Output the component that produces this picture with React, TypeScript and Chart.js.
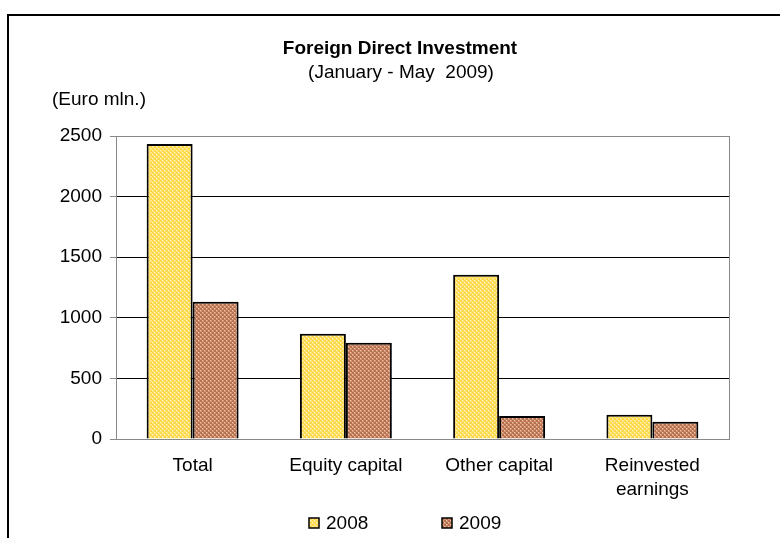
import React, { useEffect, useRef } from "react";
import { Chart, registerables } from "chart.js";

Chart.register(...registerables);

const categories: (string | string[])[] = ["Total", "Equity capital", "Other capital", ["Reinvested", "earnings"]];
const seriesNames = ["2008", "2009"];
const values2008 = [2434, 869, 1356, 200];
const values2009 = [1133, 795, 190, 143];
const yTicks = [0, 500, 1000, 1500, 2000, 2500];
const titleText = "Foreign Direct Investment";
const subtitleText = "(January - May  2009)";
const unitText = "(Euro mln.)";

const FONT = "'Liberation Sans', Arial, sans-serif";

function makePattern(base: string, dark: string, light: string): CanvasPattern | string {
  const c = document.createElement("canvas");
  c.width = 4;
  c.height = 4;
  const g = c.getContext("2d");
  if (!g) return base;
  g.fillStyle = base;
  g.fillRect(0, 0, 4, 4);
  g.fillStyle = dark;
  g.fillRect(0, 0, 2, 2);
  g.fillRect(2, 2, 2, 2);
  g.fillStyle = light;
  g.fillRect(2, 0, 1, 1);
  g.fillRect(0, 2, 1, 1);
  const p = g.createPattern(c, "repeat");
  return p || base;
}

export default function App() {
  const ref = useRef<HTMLCanvasElement>(null);

  useEffect(() => {
    if (!ref.current) return;
    const yellow = makePattern("#FFE478", "#FFD84A", "#FFF6C8");
    const brown = makePattern("#D09474", "#B9704E", "#EEC9B2");
    const fills = [yellow, brown];

    const deco = {
      id: "deco",
      afterDraw(chart: any) {
        const ctx = chart.ctx as CanvasRenderingContext2D;
        const a = chart.chartArea;
        ctx.save();
        ctx.strokeStyle = "#888888";
        ctx.lineWidth = 1;
        ctx.beginPath();
        ctx.moveTo(Math.round(a.right) + 0.5, a.top);
        ctx.lineTo(Math.round(a.right) + 0.5, a.bottom);
        ctx.stroke();
        ctx.strokeStyle = "#000000";
        ctx.lineWidth = 2;
        ctx.strokeRect(8, 15, 800, 600);
        ctx.fillStyle = "#000000";
        ctx.textAlign = "center";
        ctx.textBaseline = "alphabetic";
        ctx.font = `bold 19px ${FONT}`;
        ctx.fillText(titleText, 400, 54);
        ctx.font = `19px ${FONT}`;
        ctx.fillText(subtitleText, 401, 78);
        ctx.textAlign = "left";
        ctx.fillText(unitText, 52, 105);
        const lx = [309, 442];
        chart.data.datasets.forEach((ds: any, i: number) => {
          const x = lx[i];
          ctx.fillStyle = ds.backgroundColor;
          ctx.fillRect(x, 518, 10, 10);
          ctx.strokeStyle = "#000000";
          ctx.lineWidth = 1.5;
          ctx.strokeRect(x, 518, 10, 10);
          ctx.fillStyle = "#000000";
          ctx.textAlign = "left";
          ctx.textBaseline = "middle";
          ctx.font = `19px ${FONT}`;
          ctx.fillText(ds.label, x + 17, 524);
        });
        ctx.restore();
      },
    };

    const chart = new Chart(ref.current, {
      type: "bar",
      data: {
        labels: categories as any,
        datasets: [
          {
            label: seriesNames[0],
            data: values2008,
            backgroundColor: fills[0] as any,
            borderColor: "#000000",
            borderWidth: 2,
            categoryPercentage: 0.6,
            barPercentage: 1.0,
          },
          {
            label: seriesNames[1],
            data: values2009,
            backgroundColor: fills[1] as any,
            borderColor: "#000000",
            borderWidth: 2,
            categoryPercentage: 0.6,
            barPercentage: 1.0,
          },
        ],
      },
      options: {
        responsive: false,
        animation: false,
        devicePixelRatio: 1,
        layout: { padding: { left: 0, right: 51, top: 136, bottom: 0 } },
        plugins: {
          legend: { display: false },
          title: { display: false },
          tooltip: { enabled: false },
        },
        scales: {
          x: {
            grid: { display: false, drawTicks: false },
            border: { display: true, color: "#888888", width: 1 },
            ticks: {
              color: "#000000",
              font: { family: FONT, size: 19, lineHeight: 1.25 },
              padding: 15,
              maxRotation: 0,
              autoSkip: false,
            },
            afterFit: (s: any) => {
              s.height = 99;
            },
          },
          y: {
            min: 0,
            max: 2500,
            afterBuildTicks: (s: any) => {
              s.ticks = yTicks.map((v) => ({ value: v }));
            },
            grid: {
              color: (c: any) => (c.tick && (c.tick.value === 2500 || c.tick.value === 0) ? "#888888" : "#000000"),
              lineWidth: 1,
              drawTicks: true,
              tickLength: 6,
              tickColor: "#888888",
            },
            border: { display: true, color: "#888888", width: 1 },
            ticks: {
              color: "#000000",
              font: { family: FONT, size: 19 },
              padding: 8,
              callback: (v: any) => String(v),
            },
            afterFit: (s: any) => {
              s.width = 116;
            },
          },
        },
      },
      plugins: [deco],
    });
    return () => chart.destroy();
  }, []);

  return (
    <div style={{ position: "absolute", left: 0, top: 0, width: 780, height: 538, background: "#ffffff" }}>
      <canvas ref={ref} width={780} height={538} style={{ display: "block" }} />
    </div>
  );
}
